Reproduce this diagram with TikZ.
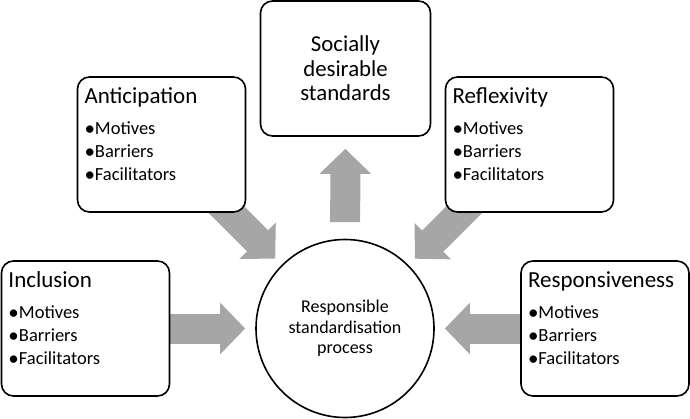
\documentclass[tikz,border=0pt]{standalone}
\usepackage{fontspec}
\setmainfont{Carlito}
\usetikzlibrary{arrows.meta}
\pgfdeclarelayer{background}
\pgfsetlayers{background,main}

\definecolor{arrowgray}{HTML}{A6A6A6}

\newcommand{\titlefont}{\fontsize{23}{27}\selectfont}
\newcommand{\itemfont}{\fontsize{18.5}{23}\selectfont}
\newcommand{\itembullet}{\raisebox{-0.6pt}{\fontsize{21}{0}\selectfont •}}
\newcommand{\factorlist}[1]{\parbox[c][119pt][t]{154pt}{{\titlefont\strut #1\par}\vspace{8pt}%
{\itemfont \itembullet Motives\par \itembullet Barriers\par \itembullet Facilitators\par}}}

\begin{document}
\begin{tikzpicture}[x=1pt, y=1pt,
  dimbox/.style={draw=black, line width=1.6pt, fill=white, rounded corners=12pt,
    inner xsep=7pt, inner ysep=8pt, minimum width=168pt, minimum height=135pt},
  blockarrow/.style={draw=arrowgray, line width=30pt, -{Triangle[length=25pt, width=50pt]}}]

\useasboundingbox (0,0) rectangle (690,418);

\node [dimbox] (incl) at (85.5, 89.5) {\factorlist{Inclusion}};
\node [dimbox] (resp) at (605, 89.5) {\factorlist{Responsiveness}};
\node [dimbox] (antic) at (161.5, 273.5) {\factorlist{Anticipation}};
\node [dimbox] (refl) at (529.5, 273.5) {\factorlist{Reflexivity}};

\node [draw=black, line width=1.6pt, fill=white, rounded corners=12pt,
minimum width=170pt, minimum height=135pt, align=center,
font={\fontsize{22.8}{24.5}\selectfont}] (soc) at (345.5, 349.5)
{Socially\\desirable\\standards};

\node [draw=black, line width=1.6pt, fill=white, circle, minimum size=178pt,
inner sep=0pt, align=center, font={\fontsize{18}{20.5}\selectfont}] (proc)
 at (345, 89.5) {Responsible\\standardisation\\process};

\begin{pgfonlayer}{background}
\draw [blockarrow, shorten >=10pt] (incl) -- (proc);
\draw [blockarrow, shorten >=10pt] (resp) -- (proc);
\draw [blockarrow, shorten <=16.5pt, shorten >=12pt] (proc) -- (soc);
\draw [blockarrow, shorten <=-20pt, shorten >=9pt] (antic) -- (proc);
\draw [blockarrow, shorten <=-20pt, shorten >=9pt] (refl) -- (proc);
\end{pgfonlayer}

\end{tikzpicture}
\end{document}
